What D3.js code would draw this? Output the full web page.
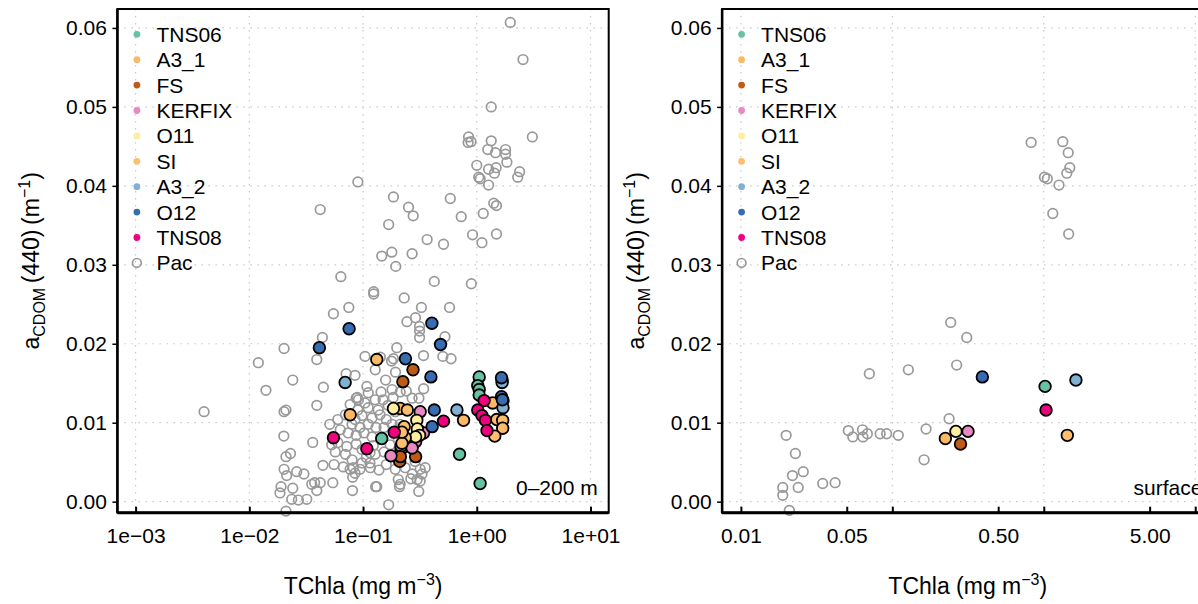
<!DOCTYPE html>
<html>
<head>
<meta charset="utf-8">
<script src="https://cdn.jsdelivr.net/npm/d3@7"></script>
<style>
body { margin: 0; background: #fff; }
svg { display: block; font-family: "Liberation Sans", Arial, Helvetica, sans-serif; }
</style>
</head>
<body>
<svg id="chart" width="1198" height="604"></svg>
<script>
// ---------- data: [TChla (mg m-3), aCDOM(440) (m-1)] ----------
const groups = ["TNS06", "A3_1", "FS", "KERFIX", "O11", "SI", "A3_2", "O12", "TNS08", "Pac"];
const groupColors = ["#66c2a5", "#fdb863", "#bf5b17", "#e78ac3", "#ffeda0", "#fdbf6f", "#80b1d3", "#386cb0", "#f0027f", "#999999"];

// left panel, 0-200 m
const tns06Deep = [[1.05,0.0158],[1.02,0.0147],[1.05,0.0142],[1.05,0.0135],[0.146,0.0080],[0.705,0.0060],[1.07,0.0023],[0.216,0.0066],[0.216,0.0070]];
const a31Deep = [[0.132,0.0180],[0.077,0.0110],[0.212,0.0118],[0.765,0.0103],[1.38,0.0125]];
const fsDeep = [[0.275,0.0167],[0.224,0.0152],[0.21,0.0051],[0.213,0.0057],[0.29,0.0057]];
const kerfixDeep = [[0.318,0.0114],[0.31,0.0090],[0.34,0.0087],[0.29,0.0076],[0.27,0.0068],[0.176,0.0058]];
const o11Deep = [[0.185,0.0118],[0.297,0.0103],[0.3,0.0092],[0.314,0.0084],[0.29,0.0082]];
const siDeep = [[0.245,0.0116],[0.23,0.0095],[0.235,0.0081],[0.22,0.0074],[0.22,0.0088],[1.5,0.0104],[1.69,0.0103],[1.69,0.0093],[1.44,0.0083]];
const a32Deep = [[0.0696,0.0151],[0.669,0.0116],[1.67,0.0154],[1.67,0.0151],[1.70,0.0128],[1.70,0.0119]];
const o12Deep = [[0.403,0.0226],[0.0754,0.0219],[0.0413,0.0195],[0.48,0.0199],[0.236,0.0181],[0.395,0.0158],[0.423,0.0116],[0.405,0.0095],[1.65,0.0157],[1.65,0.0133],[1.68,0.0129]];
const tns08Deep = [[0.0549,0.0081],[0.108,0.0067],[0.188,0.0088],[0.51,0.0102],[1.16,0.0128],[1.02,0.0116],[1.11,0.0109],[1.19,0.0103],[1.23,0.0090]];
const pacDeep = [
  [1.97,0.0607],[2.55,0.0560],[1.34,0.0500],[0.847,0.0462],[0.84,0.0455],[0.89,0.0456],[3.08,0.0462],[1.34,0.0457],
  [1.25,0.0446],[1.46,0.0442],[1.79,0.0446],[1.79,0.0440],[1.84,0.0430],[1.0,0.0426],[1.27,0.0421],[1.48,0.0423],
  [1.43,0.0416],[2.38,0.0418],[2.29,0.0411],[1.04,0.0411],[1.07,0.0409],[1.27,0.0401],[0.585,0.0384],[1.41,0.0378],
  [1.49,0.0375],[0.73,0.0361],[1.14,0.0365],[0.918,0.0338],[1.49,0.0339],[1.11,0.0328],[0.51,0.0326],
  [0.09,0.0405],[0.042,0.0370],[0.185,0.0386],[0.251,0.0373],[0.276,0.0362],[0.168,0.0351],[0.366,0.0332],
  [0.146,0.0311],[0.179,0.0316],[0.270,0.0314],[0.194,0.0298],[0.0638,0.0285],[0.423,0.0279],[0.896,0.0276],
  [0.124,0.0266],[0.124,0.0263],[0.230,0.0258],[0.0750,0.0246],[0.0549,0.0238],[0.326,0.0246],[0.576,0.0246],
  [0.289,0.0233],[0.243,0.0228],[0.314,0.0222],[0.314,0.0216],[0.314,0.0208],[0.525,0.0209],[0.0439,0.0208],
  [0.0202,0.0194],[0.198,0.0195],[0.34,0.0185],[0.594,0.0181],[0.503,0.0184],[0.185,0.0181],[0.0392,0.0180],
  [0.0120,0.0176],[0.0241,0.0154],[0.0140,0.0141],[0.0448,0.0145],[0.0040,0.0114],[0.0202,0.0114],[0.021,0.0116],
  [0.0392,0.0122],[0.0201,0.0083],[0.0361,0.0075],[0.021,0.0057],[0.023,0.0061],[0.0444,0.0046],[0.0556,0.0047],
  [0.0202,0.0041],[0.0213,0.0033],[0.0261,0.0038],[0.0302,0.0035],[0.0354,0.0022],[0.0375,0.0024],[0.042,0.0024],
  [0.0392,0.0014],[0.0542,0.0024],[0.0807,0.0014],[0.019,0.0019],[0.0186,0.0011],[0.0236,0.0003],[0.027,0.0002],
  [0.032,0.0003],[0.021,-0.0012],[0.0241,0.0017],
  [0.168,-0.0004],[0.129,0.0019],[0.209,0.0019],[0.309,0.0013],[0.263,0.0029],[0.33,0.0035],[0.138,0.0040],
  [0.115,0.0049],[0.115,0.0062],[0.341,0.0143],[0.142,0.0183],[0.178,0.0178],[0.158,0.0154],[0.193,0.0164],
  [0.104,0.0184],[0.24,0.0140],[0.27,0.0131],[0.31,0.0131],[0.318,0.0026],[0.212,0.0022],
  [0.071,0.0162],[0.085,0.0160],[0.128,0.0167],[0.087,0.0131],[0.091,0.0129],[0.108,0.0146],[0.053,0.0072],
  [0.082,0.0043],[0.085,0.0036],[0.081,0.0031],[0.098,0.0049],[0.132,0.0019],
  [0.089,0.0132],[0.111,0.0138],[0.144,0.0139],[0.180,0.0142],[0.212,0.0139],[0.104,0.0125],[0.128,0.0129],
  [0.150,0.0129],[0.184,0.0132],[0.077,0.0123],[0.090,0.0116],[0.111,0.0119],[0.136,0.0116],[0.166,0.0122],
  [0.192,0.0114],[0.070,0.0110],[0.085,0.0104],[0.098,0.0109],[0.120,0.0106],[0.141,0.0110],[0.160,0.0104],
  [0.080,0.0098],[0.094,0.0094],[0.111,0.0098],[0.130,0.0094],[0.153,0.0094],[0.180,0.0098],[0.063,0.0091],
  [0.074,0.0087],[0.087,0.0084],[0.102,0.0087],[0.120,0.0082],[0.060,0.0075],[0.072,0.0070],[0.087,0.0073],
  [0.098,0.0066],[0.123,0.0071],[0.070,0.0060],[0.080,0.0053],[0.107,0.0056],[0.128,0.0060],[0.153,0.0063],
  [0.173,0.0072],[0.204,0.0078],[0.057,0.0063],[0.067,0.0044],[0.077,0.0041],[0.094,0.0041],[0.116,0.0043],
  [0.160,0.0047],[0.192,0.0041],[0.235,0.0043],[0.271,0.0035],[0.318,0.0041],[0.204,0.0028],[0.051,0.0098],
  [0.060,0.0104],[0.212,0.0098],[0.260,0.0078],[0.245,0.0070],[0.287,0.0051],[0.299,0.0028],[0.352,0.0043]
];

// right panel, surface
const tns06Surf = [[1.02,0.0146]];
const a31Surf = [[0.224,0.0080]];
const fsSurf = [[0.282,0.0073]];
const kerfixSurf = [[0.316,0.0089]];
const o11Surf = [[0.263,0.0089]];
const siSurf = [[1.43,0.0084]];
const a32Surf = [[1.63,0.0154]];
const o12Surf = [[0.393,0.0158]];
const tns08Surf = [[1.035,0.0116]];
const pacSurf = [
  [0.243,0.0227],[0.31,0.0208],[0.266,0.0173],[0.1276,0.0167],[0.0705,0.0162],[0.237,0.0105],[0.167,0.0092],
  [0.0512,0.0090],[0.0548,0.0082],[0.0635,0.0091],[0.064,0.0082],[0.0684,0.0086],[0.0831,0.0086],[0.0917,0.0086],
  [0.1095,0.0084],[0.0199,0.0084],[0.0229,0.0061],[0.0219,0.0033],[0.0258,0.0038],[0.0189,0.0018],[0.0189,0.0008],
  [0.0239,0.0018],[0.0347,0.0023],[0.0419,0.0024],[0.0209,-0.0011],[0.162,0.0053],
  [0.825,0.0455],[1.335,0.0456],[1.45,0.0442],[1.485,0.0423],[1.42,0.0416],[1.01,0.0411],[1.055,0.0409],
  [1.26,0.0401],[1.147,0.0365],[1.46,0.0339]
];

const yTicks = [0, 0.01, 0.02, 0.03, 0.04, 0.05, 0.06];
const xTicksLeft = [1e-3, 1e-2, 1e-1, 1, 10];
const xLabelsLeft = ["1e\u221203", "1e\u221202", "1e\u221201", "1e+00", "1e+01"];
const xTicksRight = [0.01, 0.05, 0.1, 0.5, 1, 5, 10];
const xLabelsRight = ["0.01", "0.05", "", "0.50", "", "5.00", ""];
const xGridRight = [0.01, 0.1, 1, 10];

// =============================== layout ===============================
const svg = d3.select("#chart");
const plotW = 491.3, plotH = 503.7, plotTop = 9;
const fontSize = 21, titleSize = 23;

const y = d3.scaleLinear().domain([-0.0014, 0.0624]).range([plotH, 0]);

function drawPanel(cfg) {
  const g = svg.append("g").attr("transform", "translate(" + cfg.left + "," + plotTop + ")");
  const x = d3.scaleLog().domain(cfg.xDomain).range([0, plotW]);

  // grid
  g.append("g").selectAll("line").data(cfg.xGrid).join("line")
    .attr("x1", d => x(d)).attr("x2", d => x(d)).attr("y1", 0).attr("y2", plotH)
    .attr("stroke", "#c8c8c8").attr("stroke-width", 1.2).attr("stroke-dasharray", "1.5,5.5");
  g.append("g").selectAll("line").data(yTicks).join("line")
    .attr("x1", 0).attr("x2", plotW).attr("y1", d => y(d)).attr("y2", d => y(d))
    .attr("stroke", "#c8c8c8").attr("stroke-width", 1.2).attr("stroke-dasharray", "1.5,5.5");

  // points
  const pts = g.append("g");
  const pac = cfg.series[cfg.series.length - 1];
  pts.selectAll("circle.pac").data(pac).join("circle")
    .attr("class", "pac")
    .attr("cx", d => x(d[0])).attr("cy", d => y(d[1])).attr("r", 4.8)
    .attr("fill", "none").attr("stroke", groupColors[9]).attr("stroke-width", 1.7);
  cfg.series.slice(0, 9).forEach((s, i) => {
    pts.append("g").selectAll("circle").data(s).join("circle")
      .attr("cx", d => x(d[0])).attr("cy", d => y(d[1])).attr("r", 5.8)
      .attr("fill", groupColors[i]).attr("stroke", "#000").attr("stroke-width", 1.8);
  });

  // axes
  const ya = g.append("g").call(d3.axisLeft(y).tickValues(yTicks).tickFormat(d3.format(".2f"))
    .tickSize(5).tickPadding(5.5));
  ya.select(".domain").remove();
  ya.selectAll("line").attr("stroke-width", 1.5);
  ya.selectAll("text").attr("font-size", fontSize).attr("fill", "#000");
  ya.attr("font-family", null);

  const xa = g.append("g").attr("transform", "translate(0," + plotH + ")")
    .call(d3.axisBottom(x).tickValues(cfg.xTicks).tickFormat((d, i) => cfg.xLabels[i])
      .tickSizeInner(-6).tickSizeOuter(0).tickPadding(15));
  xa.select(".domain").remove();
  xa.selectAll("line").attr("stroke-width", 2);
  xa.selectAll("text").attr("font-size", fontSize).attr("fill", "#000");
  xa.attr("font-family", null);

  // frame
  g.append("rect").attr("x", 0).attr("y", 0).attr("width", plotW).attr("height", plotH)
    .attr("fill", "none").attr("stroke", "#000").attr("stroke-width", 2);
  g.append("line").attr("x1", 0).attr("x2", plotW).attr("y1", plotH).attr("y2", plotH)
    .attr("stroke", "#000").attr("stroke-width", 3);
  g.append("line").attr("x1", 0).attr("x2", 0).attr("y1", 0).attr("y2", plotH)
    .attr("stroke", "#000").attr("stroke-width", 2.5);

  // legend
  const leg = g.append("g").selectAll("g").data(groups).join("g")
    .attr("transform", (d, i) => "translate(19.5," + (25.3 + i * 25.4) + ")");
  leg.append("circle").attr("r", (d, i) => i === 9 ? 4.4 : 3.4)
    .attr("fill", (d, i) => i === 9 ? "none" : groupColors[i])
    .attr("stroke", (d, i) => i === 9 ? groupColors[9] : "none")
    .attr("stroke-width", 1.7);
  leg.append("text").attr("x", 19.5).attr("y", 7.5).attr("font-size", fontSize).text(d => d);

  // corner label
  g.append("text").attr("x", plotW - 11).attr("y", 485.5).attr("text-anchor", "end")
    .attr("font-size", fontSize).text(cfg.tag);

  // axis titles
  const xt = svg.append("text").attr("x", cfg.left + plotW / 2).attr("y", 594)
    .attr("text-anchor", "middle").attr("font-size", titleSize);
  xt.append("tspan").text("TChla (mg m");
  xt.append("tspan").attr("dy", -9).attr("font-size", 16).text("\u22123");
  xt.append("tspan").attr("dy", 9).text(")");

  const yt = svg.append("text")
    .attr("transform", "translate(" + (cfg.left - 78) + "," + (plotTop + plotH / 2) + ") rotate(-90)")
    .attr("text-anchor", "middle").attr("font-size", titleSize);
  yt.append("tspan").text("a");
  yt.append("tspan").attr("dy", 6).attr("font-size", 16).text("CDOM");
  yt.append("tspan").attr("dy", -6).text("\u2009(440)\u2009(m");
  yt.append("tspan").attr("dy", -9).attr("font-size", 16).text("\u22121");
  yt.append("tspan").attr("dy", 9).text(")");
}

drawPanel({
  left: 117.4,
  xDomain: [Math.pow(10, -3.16), Math.pow(10, 1.16)],
  xTicks: xTicksLeft, xLabels: xLabelsLeft, xGrid: xTicksLeft,
  series: [tns06Deep, a31Deep, fsDeep, kerfixDeep, o11Deep, siDeep, a32Deep, o12Deep, tns08Deep, pacDeep],
  tag: "0\u2013200 m"
});

drawPanel({
  left: 722.1,
  xDomain: [Math.pow(10, -2.124), Math.pow(10, 1.12)],
  xTicks: xTicksRight, xLabels: xLabelsRight, xGrid: xGridRight,
  series: [tns06Surf, a31Surf, fsSurf, kerfixSurf, o11Surf, siSurf, a32Surf, o12Surf, tns08Surf, pacSurf],
  tag: "surface"
});
</script>
</body>
</html>
